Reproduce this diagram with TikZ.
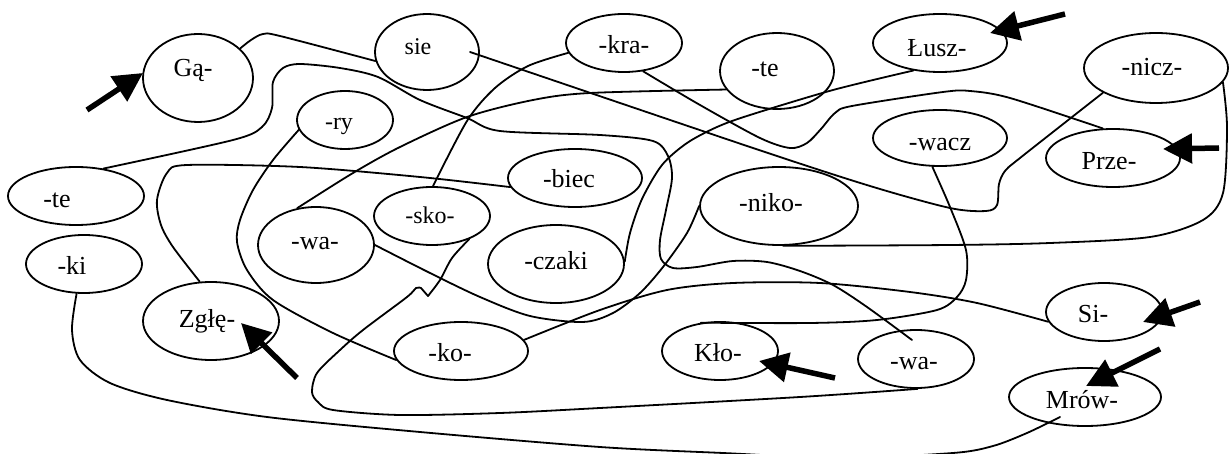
\documentclass[tikz,border=0pt]{standalone}
\usepackage{fontspec}
\setmainfont{Liberation Serif}
\usetikzlibrary{shapes.geometric,arrows.meta,calc}

\begin{document}
\begin{tikzpicture}[x=1pt,y=-1pt,
  blob/.style={draw, ellipse, line width=1.8pt, inner sep=0pt},
  word/.style={anchor=base, inner sep=0pt, font=\fontsize{26}{30}\selectfont},
  smallword/.style={word, font=\fontsize{24}{28}\selectfont},
  wire/.style={line width=1.8pt, line cap=round, line join=round},
  pointer/.style={line width=5.5pt, -{Triangle[length=29pt,width=29pt]}}]

\useasboundingbox (0,0) rectangle (1229,454);
\clip (0,0) rectangle (1229,454);

% syllable bubbles
\node[blob, minimum width=110pt, minimum height=88pt] (gq)    at (198,78)   {};
\node[blob, minimum width=104pt, minimum height=76pt] (sie)   at (427,52)   {};
\node[blob, minimum width=116pt, minimum height=58pt] (kra)   at (624,43)   {};
\node[blob, minimum width=114pt, minimum height=76pt] (tet)   at (777,71)   {};
\node[blob, minimum width=134pt, minimum height=58pt] (lusz)  at (940,43)   {};
\node[blob, minimum width=144pt, minimum height=70pt] (nicz)  at (1156,68)  {};
\node[blob, minimum width=134pt, minimum height=58pt] (prze)  at (1113,158) {};
\node[blob, minimum width=134pt, minimum height=56pt] (wacz)  at (940,138)  {};
\node[blob, minimum width=96pt,  minimum height=58pt] (ry)    at (345,120)  {};
\node[blob, minimum width=136pt, minimum height=58pt] (tel)   at (76,196)   {};
\node[blob, minimum width=134pt, minimum height=58pt] (biec)  at (575,178)  {};
\node[blob, minimum width=158pt, minimum height=78pt] (niko)  at (779,206)  {};
\node[blob, minimum width=116pt, minimum height=58pt] (sko)   at (432,216)  {};
\node[blob, minimum width=116pt, minimum height=76pt] (wal)   at (316,245)  {};
\node[blob, minimum width=136pt, minimum height=78pt] (czaki) at (556,264)  {};
\node[blob, minimum width=116pt, minimum height=58pt] (ki)    at (84,264)   {};
\node[blob, minimum width=136pt, minimum height=78pt] (zgle)  at (211,321)  {};
\node[blob, minimum width=134pt, minimum height=58pt] (ko)    at (461,351)  {};
\node[blob, minimum width=116pt, minimum height=58pt] (klo)   at (720,351)  {};
\node[blob, minimum width=116pt, minimum height=58pt] (war)   at (916,359)  {};
\node[blob, minimum width=116pt, minimum height=58pt] (si)    at (1104,312) {};
\node[blob, minimum width=152pt, minimum height=58pt] (mrow)  at (1085,397) {};

% syllables
\node[word]      (w-gq)    at (193,77)   {Gą-};
\node[smallword] (w-sie)   at (418,55)   {sie};
\node[word]      (w-kra)   at (624,54)   {-kra-};
\node[word]      (w-tet)   at (765,77)   {-te};
\node[word]      (w-lusz)  at (937,57)   {Łusz-};
\node[word]      (w-nicz)  at (1152,76)  {-nicz-};
\node[word]      (w-prze)  at (1109,170) {Prze-};
\node[word]      (w-wacz)  at (940,151)  {-wacz};
\node[smallword] (w-ry)    at (339,130)  {-ry};
\node[word]      (w-tel)   at (57,208)   {-te};
\node[word]      (w-biec)  at (569,188)  {-biec};
\node[word]      (w-niko)  at (771,212)  {-niko-};
\node[smallword] (w-sko)   at (430,224)  {-sko-};
\node[word]      (w-wal)   at (315,250)  {-wa-};
\node[word]      (w-czaki) at (556,270)  {-czaki};
\node[word]      (w-ki)    at (72,275)   {-ki};
\node[word]      (w-zgle)  at (207,327)  {Zgłę-};
\node[word]      (w-ko)    at (450,361)  {-ko-};
\node[word]      (w-klo)   at (718,362)  {Kło-};
\node[word]      (w-war)   at (914,370)  {-wa-};
\node[word]      (w-si)    at (1093,323) {Si-};
\node[word]      (w-mrow)  at (1082,408) {Mrów-};

% tangled lines joining the syllables
\draw[wire] plot[smooth] coordinates {(gq.35) (251,40) (263,34) (280,36) (sie.190)};
\draw[wire] plot[smooth] coordinates {($(sie.center)+(43,0)$) (750,147) (870,186) (950,208)
  (986,211) (997,205) (999,184) (1005,171) (1020,158) (nicz.205)};
\draw[wire] plot[smooth] coordinates {(tel.45) (233,140) (262,127) (272,108) (273,82) (283,68)
  (300,64) (340,68) (378,77) (420,100) (467,118) (500,131) (600,135) (653,141) (668,156)
  (672,178) (666,210) (660,240) (661,259) (673,268) (697,267) (733,261) (767,262) (800,271)
  (833,285) (867,307) ($(war.center)+(-4,-19)$)};
\draw[wire] plot[smooth] coordinates {(kra.190) (528,66) (495,88) (467,121) (sko.88)};
\draw[wire] plot[smooth] coordinates {(kra.304) (700,105) (760,138) (790,148) (807,143)
  (821,129) (835,113) (852,106) (943,92) (970,91) (1010,98) (prze.109)};
\draw[wire] plot[smooth] coordinates {(tet.200) (590,93) (533,100) (467,117) (400,147)
  (353,173) (wal.117)};
\draw[wire] plot[smooth] coordinates {(lusz.226) (833,90) (750,115) (717,127) (687,143)
  (662,165) (642,199) (630,233) (czaki.2)};
\draw[wire] plot[smooth] coordinates {(nicz.348) (1227,127) (1223,193) (1203,220)
  (1150,237) (1050,243) (950,245) (niko.276)};
\draw[wire] plot[smooth] coordinates {(wacz.255) (950,207) (966,250) (966,280) (957,297)
  (937,310) (877,320) (810,323) (klo.124)};
\draw[wire] plot[smooth] coordinates {(biec.188) (420,177) (300,167) (187,165) (167,173)
  (157,200) (161,225) (173,247) (zgle.106)};
\draw[wire] plot[smooth] coordinates {(ry.192) (273,160) (253,190) (240,220) (237,242)
  (247,270) (273,300) (333,333) (ko.188)};
\draw[wire] plot[smooth] coordinates {(sko.-32) (452,258) (440,280) (428,296)}
  -- plot[smooth] coordinates {(421,288) (416,288) (407,297) (363,330) (340,350) (317,373)
  (312,392) (318,402) (333,410) (400,415) (500,413) (600,408) (800,397) (war.273)};
\draw[wire] plot[smooth] coordinates {(wal.east) (430,273) (480,297) (530,316) (583,322)
  (613,313) (640,293) (663,267) (687,233) (niko.west)};
\draw[wire] plot[smooth] coordinates {(ko.10) (600,310) (667,290) (733,283) (820,283)
  (910,292) (977,303) (si.190)};
\draw[wire] plot[smooth] coordinates {(ki.256) (72,330) (80,360) (110,383) (167,400)
  (267,417) (420,432) (600,447) (723,453) (840,458) (953,453) (993,446) (1027,433)
  ($(mrow.center)+(-25,20)$)};

% thick pointers
\coordinate (p1a) at (87,110);   \coordinate (p1b) at (143,73);
\coordinate (p2a) at (1065,14);  \coordinate (p2b) at (990,33);
\coordinate (p3a) at (1219,148); \coordinate (p3b) at (1163,149);
\coordinate (p4a) at (297,378);  \coordinate (p4b) at (241,323);
\coordinate (p5a) at (835,378);  \coordinate (p5b) at (759,361);
\coordinate (p6a) at (1200,302); \coordinate (p6b) at (1143,322);
\coordinate (p7a) at (1160,349); \coordinate (p7b) at (1086,386);
\foreach \i in {1,...,7} \draw[pointer] (p\i a) -- (p\i b);
\end{tikzpicture}
\end{document}
